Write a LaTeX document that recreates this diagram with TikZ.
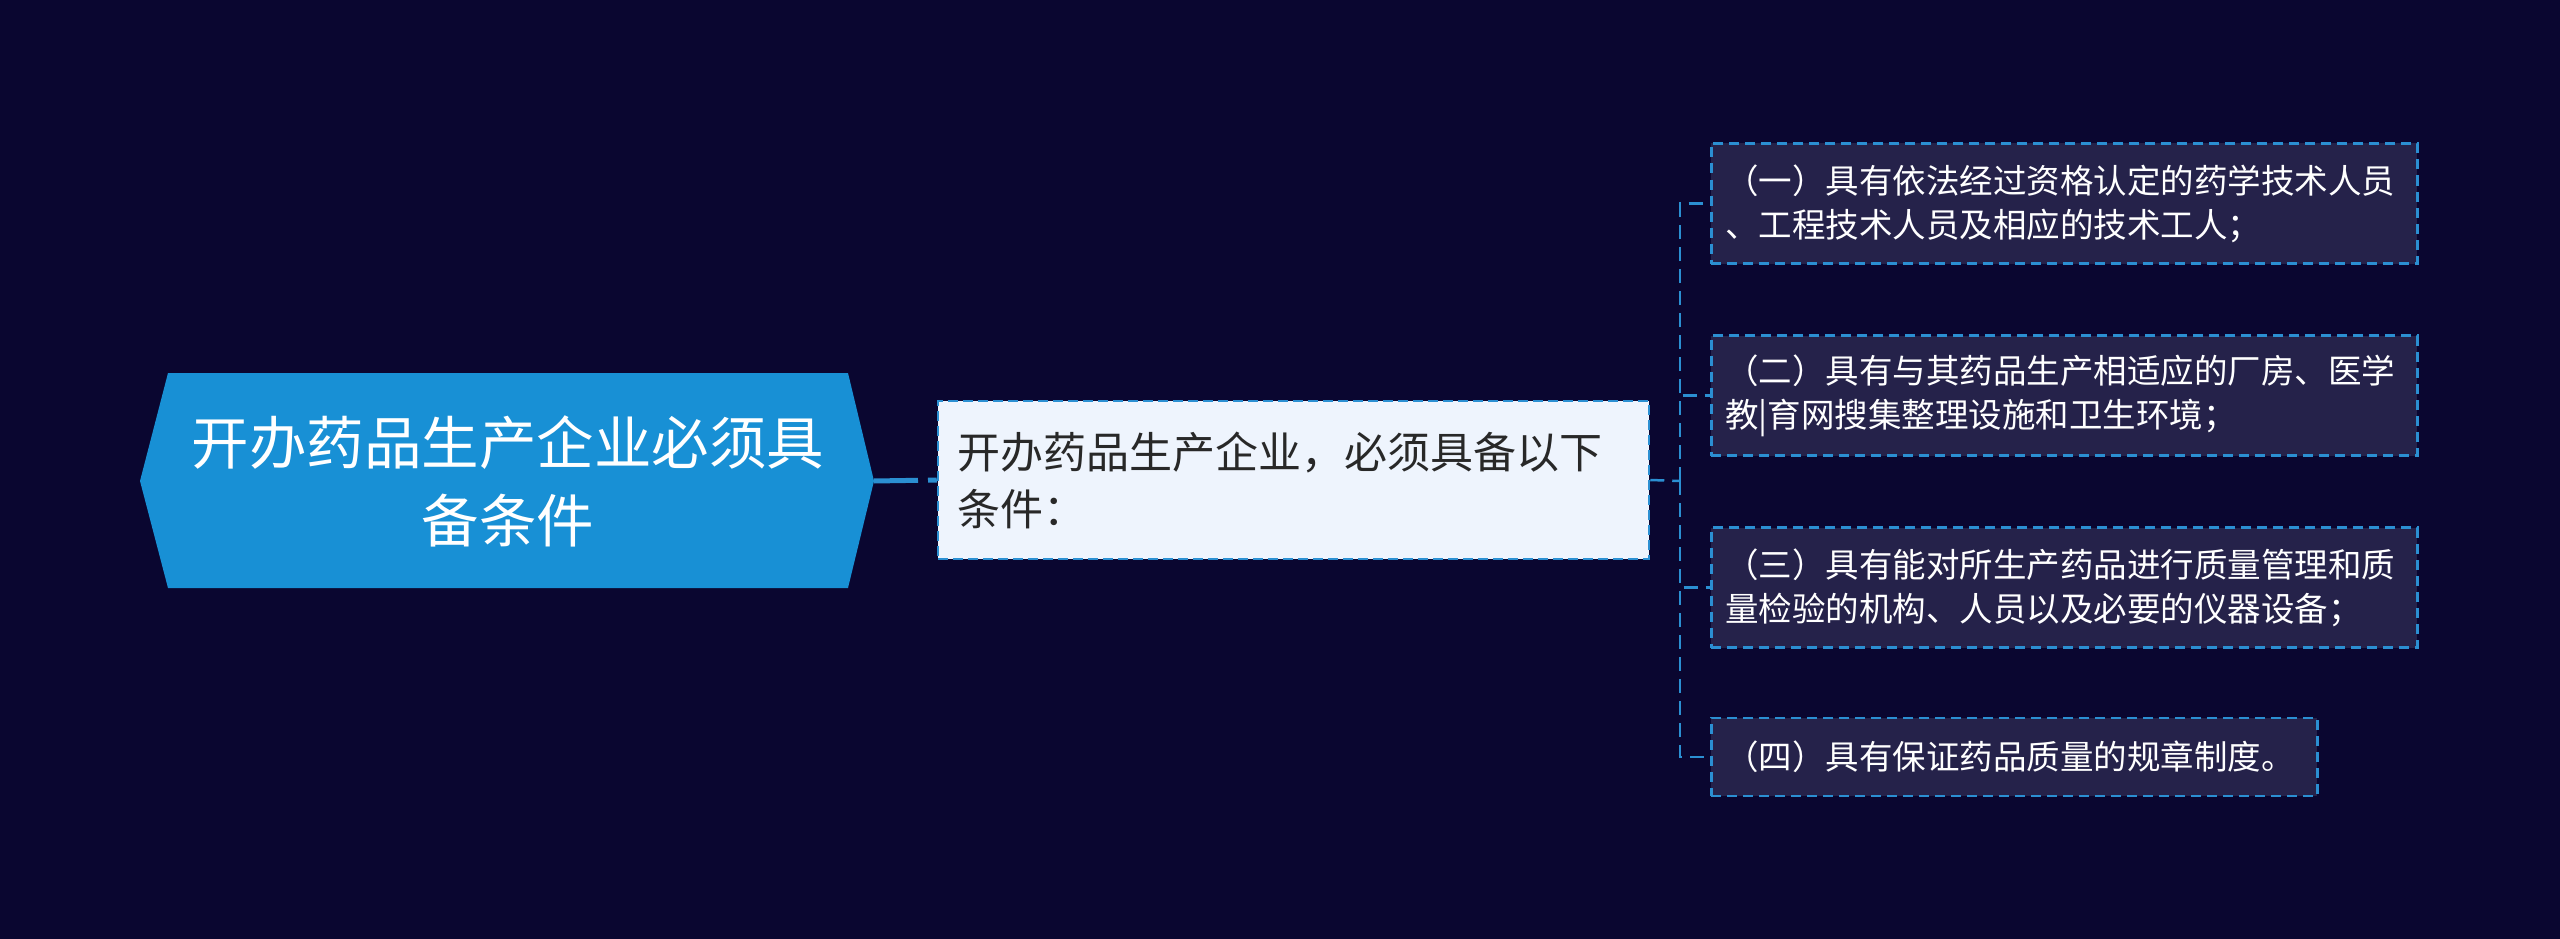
\documentclass[tikz,border=0pt]{standalone}
\usepackage{fontspec}
\setmainfont{Noto Sans CJK SC}
\definecolor{bgc}{RGB}{10,6,48}
\definecolor{rootc}{RGB}{24,144,213}
\definecolor{childc}{RGB}{238,244,253}
\definecolor{leafc}{RGB}{37,34,74}
\definecolor{linec}{RGB}{43,143,210}
\definecolor{darktext}{RGB}{40,40,40}
\tikzset{
  rootshape/.style={fill=rootc},
  roottext/.style={text=white, font=\fontsize{57.5}{78}\selectfont, align=center, inner sep=0pt},
  childbox/.style={draw=linec, line width=2.5pt, dash pattern=on 10pt off 5pt, fill=childc,
    text=darktext, font=\fontsize{43}{57}\selectfont, align=left, text width=673pt,
    inner xsep=19pt, inner ysep=0pt, minimum height=158pt},
  leafbox/.style={draw=linec, line width=2.5pt, dash pattern=on 10pt off 6pt, fill=leafc,
    text=white, font=\fontsize{33.5}{44}\selectfont, align=left,
    inner xsep=14pt, inner ysep=0pt, anchor=west},
  mainlink/.style={draw=linec, line width=5pt, dash pattern=on 44pt off 10pt},
  sublink/.style={draw=linec, line width=2.5pt, dash pattern=on 14pt off 8pt},
}
\begin{document}
\begin{tikzpicture}[x=1pt,y=-1pt]
\fill[bgc] (0,0) rectangle (2560,939);
\useasboundingbox (0,0) rectangle (2560,939);
% root
\fill[rootshape] (168,373) -- (848,373) -- (874,481) -- (848,588) -- (168,588) -- (140,481) -- cycle;
\coordinate (rootE) at (874,481);
\node[roottext] (root) at (508,481) {开办药品生产企业必须具\\备条件};
% child
\node[childbox] (child) at (1293.5,480) {开办药品生产企业，必须具备以下\\条件：};
% leaves
\node[leafbox, text width=678pt, minimum height=120pt] (l1) at (1710,203.5) {（一）具有依法经过资格认定的药学技术人员\\、工程技术人员及相应的技术工人；};
\node[leafbox, text width=678pt, minimum height=120pt] (l2) at (1710,395.5) {（二）具有与其药品生产相适应的厂房、医学\\教|育网搜集整理设施和卫生环境；};
\node[leafbox, text width=678pt, minimum height=120pt] (l3) at (1710,587.5) {（三）具有能对所生产药品进行质量管理和质\\量检验的机构、人员以及必要的仪器设备；};
\node[leafbox, text width=578pt, minimum height=78pt] (l4) at (1710,757) {（四）具有保证药品质量的规章制度。};
% connectors
\draw[mainlink] (rootE) -- (child.west);
\coordinate (bus) at (1680,481);
\draw[sublink] (child.east) -- (bus);
\draw[sublink] (bus) |- (l1.west);
\draw[sublink] (bus) |- (l2.west);
\draw[sublink] (bus) |- (l3.west);
\draw[sublink] (bus) |- (l4.west);
\end{tikzpicture}
\end{document}
